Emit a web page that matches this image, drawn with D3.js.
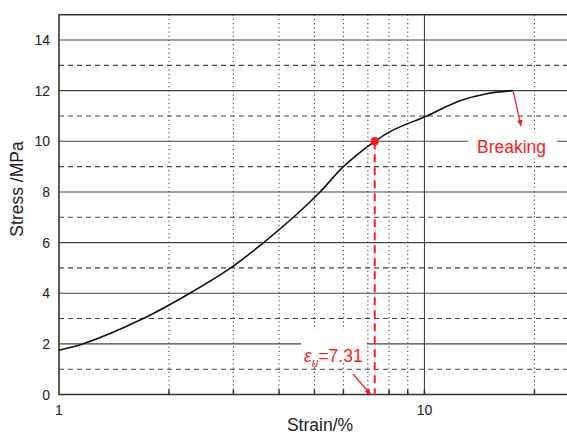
<!DOCTYPE html>
<html>
<head>
<meta charset="utf-8">
<script src="https://cdn.jsdelivr.net/npm/d3@7"></script>
<style>
  body { margin: 0; background: #fff; }
  text { font-family: "Liberation Sans", Arial, sans-serif; }
</style>
</head>
<body>
<svg id="chart" width="567" height="434"></svg>
<script>
// Кривая напряжение–деформация (деформация в %, напряжение в МПа)
const strain = [1.0, 1.165, 1.70, 2.28, 2.95, 3.63, 4.38, 5.18, 6.0, 7.31, 8.22, 10.14, 12.5, 14.8, 17.5];
const stress = [1.75, 2.0, 3.0, 4.0, 5.0, 6.0, 7.0, 8.0, 9.0, 10.0, 10.45, 11.0, 11.6, 11.88, 12.0];

// Деления осей
const yTicks = [0, 2, 4, 6, 8, 10, 12, 14];
const yMinor = [1, 3, 5, 7, 9, 11, 13];
const xLabels = [1, 10];
const xMinor = [2, 3, 4, 5, 6, 7, 8, 9, 20];

// Точка предельной деформации
const ultimate = { strain: 7.31, stress: 10, label: "7.31" };
const breakPoint = { strain: 17.5, stress: 12 };

const svg = d3.select("#chart");

const x = d3.scaleLog().domain([1, 25]).range([59, 569.9]);
const y = d3.scaleLinear().domain([0, 15]).range([394.5, 14.7]);

const gridColor = "#444";

// Горизонтальная сетка
svg.append("g").selectAll("line")
    .data(yTicks.filter(d => d > 0))
    .enter().append("line")
    .attr("x1", x(1)).attr("x2", 567)
    .attr("y1", d => y(d)).attr("y2", d => y(d))
    .attr("stroke", gridColor).attr("stroke-width", 1.1);

svg.append("g").selectAll("line")
    .data(yMinor)
    .enter().append("line")
    .attr("x1", x(1)).attr("x2", 567)
    .attr("y1", d => y(d)).attr("y2", d => y(d))
    .attr("stroke", gridColor).attr("stroke-width", 1.1)
    .attr("stroke-dasharray", "5,4");

// Вертикальная сетка
svg.append("g").selectAll("line")
    .data(xMinor)
    .enter().append("line")
    .attr("x1", d => x(d)).attr("x2", d => x(d))
    .attr("y1", y(15)).attr("y2", y(0))
    .attr("stroke", gridColor).attr("stroke-width", 1.1)
    .attr("stroke-dasharray", "1.2,3");

svg.append("line")
    .attr("x1", x(10)).attr("x2", x(10))
    .attr("y1", y(15)).attr("y2", y(0))
    .attr("stroke", gridColor).attr("stroke-width", 1.1);

// Засечки на нижней оси
svg.append("g").selectAll("line")
    .data(xMinor.concat([10]))
    .enter().append("line")
    .attr("x1", d => x(d)).attr("x2", d => x(d))
    .attr("y1", y(0)).attr("y2", y(0) - 5)
    .attr("stroke", "#333").attr("stroke-width", 1.5);

// Подложки под подписи
svg.append("rect")
    .attr("x", 301).attr("y", 330).attr("width", 66).attr("height", 30)
    .attr("fill", "#fff");
svg.append("rect")
    .attr("x", 468).attr("y", 132).attr("width", 89).attr("height", 26)
    .attr("fill", "#fff");

// Рамка
svg.append("path")
    .attr("d", `M567,${y(15)}H${x(1)}V${y(0)}H567`)
    .attr("fill", "none").attr("stroke", "#333").attr("stroke-width", 1.6);

// Подписи делений
svg.append("g").selectAll("text")
    .data(yTicks)
    .enter().append("text")
    .attr("x", 50).attr("y", d => y(d) + 5)
    .attr("text-anchor", "end")
    .attr("font-size", 14).attr("fill", "#222")
    .text(d => d);

svg.append("g").selectAll("text")
    .data(xLabels)
    .enter().append("text")
    .attr("x", d => x(d)).attr("y", 415)
    .attr("text-anchor", "middle")
    .attr("font-size", 14).attr("fill", "#222")
    .text(d => d);

// Названия осей
svg.append("text")
    .attr("x", 320).attr("y", 431)
    .attr("text-anchor", "middle")
    .attr("font-size", 17.5).attr("fill", "#222")
    .text("Strain/%");

svg.append("text")
    .attr("transform", "translate(23,189) rotate(-90)")
    .attr("text-anchor", "middle")
    .attr("font-size", 17.5).attr("fill", "#222")
    .text("Stress /MPa");

// Кривая
const line = d3.line()
    .x(d => x(d[0]))
    .y(d => y(d[1]))
    .curve(d3.curveCatmullRom.alpha(0.5));

svg.append("path")
    .datum(d3.zip(strain, stress))
    .attr("d", line)
    .attr("fill", "none")
    .attr("stroke", "#111")
    .attr("stroke-width", 1.6);

// Аннотации
const red = "#ff1a1a";
svg.append("defs").append("marker")
    .attr("id", "arrow")
    .attr("viewBox", "0 0 10 10")
    .attr("refX", 10).attr("refY", 5)
    .attr("markerWidth", 6).attr("markerHeight", 6)
    .attr("markerUnits", "userSpaceOnUse")
    .attr("orient", "auto")
    .append("path").attr("d", "M0,0L10,5L0,10Z").attr("fill", red);

svg.append("line")
    .attr("x1", x(ultimate.strain)).attr("x2", x(ultimate.strain))
    .attr("y1", y(ultimate.stress)).attr("y2", y(0))
    .attr("stroke", red).attr("stroke-width", 2)
    .attr("stroke-dasharray", "8,5");

svg.append("circle")
    .attr("cx", x(ultimate.strain)).attr("cy", y(ultimate.stress))
    .attr("r", 4.2).attr("fill", red);

svg.append("line")
    .attr("x1", 353).attr("y1", 374)
    .attr("x2", x(ultimate.strain) - 4).attr("y2", y(0))
    .attr("stroke", red).attr("stroke-width", 1.2)
    .attr("marker-end", "url(#arrow)");

const eps = svg.append("text")
    .attr("x", 304).attr("y", 361.5)
    .attr("font-size", 17.5).attr("fill", red);
eps.append("tspan").attr("font-style", "italic").text("ε");
eps.append("tspan").attr("font-style", "italic").attr("font-size", 12)
    .attr("dy", 5).text("u");
eps.append("tspan").attr("dy", -5).text("=" + ultimate.label);

svg.append("line")
    .attr("x1", x(breakPoint.strain)).attr("y1", y(breakPoint.stress) + 1)
    .attr("x2", 521).attr("y2", 126)
    .attr("stroke", red).attr("stroke-width", 1.2)
    .attr("marker-end", "url(#arrow)");

svg.append("text")
    .attr("x", 477).attr("y", 153)
    .attr("font-size", 17.5).attr("fill", red)
    .text("Breaking");
</script>
</body>
</html>
